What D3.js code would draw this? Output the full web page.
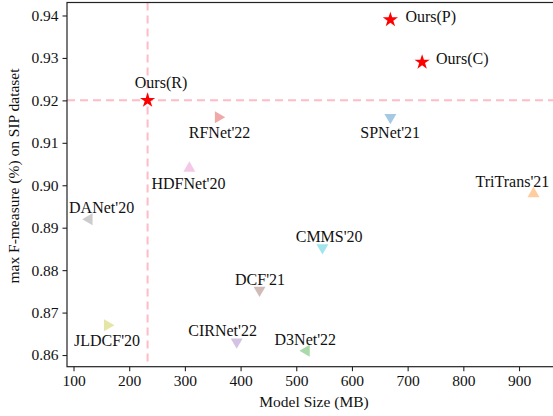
<!DOCTYPE html>
<html>
<head>
<meta charset="utf-8">
<script src="https://cdn.jsdelivr.net/npm/d3@7"></script>
<style>
  body { margin: 0; background: #fff; }
  text { font-family: "Liberation Serif", "Times New Roman", serif; fill: #111; }
</style>
</head>
<body>
<div id="container"></div>
<script>
// data
var names = ["Ours(P)", "Ours(C)", "Ours(R)", "RFNet'22", "HDFNet'20", "SPNet'21", "TriTrans'21",
             "DANet'20", "JLDCF'20", "DCF'21", "CIRNet'22", "CMMS'20", "D3Net'22"]
var modelSize = [669, 726, 233, 360, 308, 669, 926, 128, 161, 434, 393, 547, 518]
var maxF = [0.939, 0.929, 0.920, 0.916, 0.904, 0.916, 0.898, 0.892, 0.867, 0.8753, 0.8631, 0.8853, 0.861]
var markerKind = ["star", "star", "star", "right", "up", "down", "up", "left", "right", "down", "down", "down", "left"]
// where each name is written (data units, text start / middle)
var labelX = [696, 751, 210, 307, 240, 615, 822, 92, 101, 390, 306, 499, 461]
var labelY = [0.9399, 0.930, 0.9243, 0.9124, 0.9004, 0.9124, 0.9008, 0.8949, 0.8634, 0.8779, 0.8657, 0.8879, 0.8637]
var xTicks = [100, 200, 300, 400, 500, 600, 700, 800, 900]
var yTicks = [0.86, 0.87, 0.88, 0.89, 0.90, 0.91, 0.92, 0.93, 0.94]
var refSize = 233
var refF = 0.92

var colors = ["#ff0000", "#ff0000", "#ff0000", "#d62728", "#e377c2", "#1f77b4", "#ff7f0e",
              "#7f7f7f", "#bcbd22", "#8c564b", "#9467bd", "#17becf", "#2ca02c"]

function drawChart() {
  var width = 553
  var height = 416
  var pLeft = 67, pTop = 2.5, pRight = 558, pBottom = 366.7

  var svg = d3.select("#container")
    .append("svg")
    .attr("width", width)
    .attr("height", height)

  var x = d3.scaleLinear().domain([88.3, 970]).range([pLeft, pRight])
  var y = d3.scaleLinear().domain([0.85725, 0.94306]).range([pBottom, pTop])

  // reference dashed lines
  svg.append("line")
    .attr("x1", x(refSize)).attr("x2", x(refSize))
    .attr("y1", pTop).attr("y2", pBottom)
    .attr("stroke", "#ffbcc6").attr("stroke-width", 2)
    .attr("stroke-dasharray", "8,5")
  svg.append("line")
    .attr("x1", pLeft).attr("x2", pRight)
    .attr("y1", y(refF)).attr("y2", y(refF))
    .attr("stroke", "#ffbcc6").attr("stroke-width", 2)
    .attr("stroke-dasharray", "8,5")

  // axes
  svg.append("g")
    .attr("transform", "translate(0," + pBottom + ")")
    .call(d3.axisBottom(x).tickValues(xTicks).tickSize(4.5).tickPadding(4).tickFormat(d3.format("d")))
  svg.append("g")
    .attr("transform", "translate(" + pLeft + ",0)")
    .call(d3.axisLeft(y).tickValues(yTicks).tickSize(4.5).tickPadding(4).tickFormat(d3.format(".2f")))

  svg.selectAll(".domain").remove()
  svg.selectAll(".tick line").attr("stroke", "#222").attr("stroke-width", 1.1)
  svg.selectAll(".tick text")
    .style("font-family", "Liberation Serif")
    .style("font-size", "15.5px")
    .attr("fill", "#111")

  // frame
  svg.append("rect")
    .attr("x", pLeft).attr("y", pTop)
    .attr("width", pRight - pLeft).attr("height", pBottom - pTop)
    .attr("fill", "none").attr("stroke", "#222").attr("stroke-width", 1.2)

  svg.append("text")
    .attr("x", 314)
    .attr("y", 407)
    .attr("text-anchor", "middle")
    .style("font-size", "15.5px")
    .text("Model Size (MB)")

  svg.append("text")
    .attr("transform", "translate(19,176) rotate(-90)")
    .attr("text-anchor", "middle")
    .style("font-size", "15.5px")
    .text("max F-measure (%) on SIP dataset")

  // markers
  var triUp = d3.symbol().type(d3.symbolTriangle).size(62)
  var star = d3.symbol().type(d3.symbolStar).size(72)
  var turn = { up: 0, down: 180, right: 90, left: -90 }

  svg.append("g")
    .selectAll("path")
    .data(names)
    .enter()
    .append("path")
    .attr("d", (d, i) => markerKind[i] === "star" ? star() : triUp())
    .attr("transform", (d, i) => {
      var r = markerKind[i] === "star" ? 0 : turn[markerKind[i]]
      return "translate(" + x(modelSize[i]) + "," + y(maxF[i]) + ") rotate(" + r + ")"
    })
    .attr("fill", (d, i) => colors[i])
    .attr("fill-opacity", (d, i) => markerKind[i] === "star" ? 1 : 0.4)

  // names
  svg.append("g")
    .selectAll("text")
    .data(names)
    .enter()
    .append("text")
    .attr("x", (d, i) => x(labelX[i]))
    .attr("y", (d, i) => y(labelY[i]))
    .attr("dy", "0.35em")
    .style("font-size", "16px")
    .text(d => d)
}

drawChart()
</script>
</body>
</html>
